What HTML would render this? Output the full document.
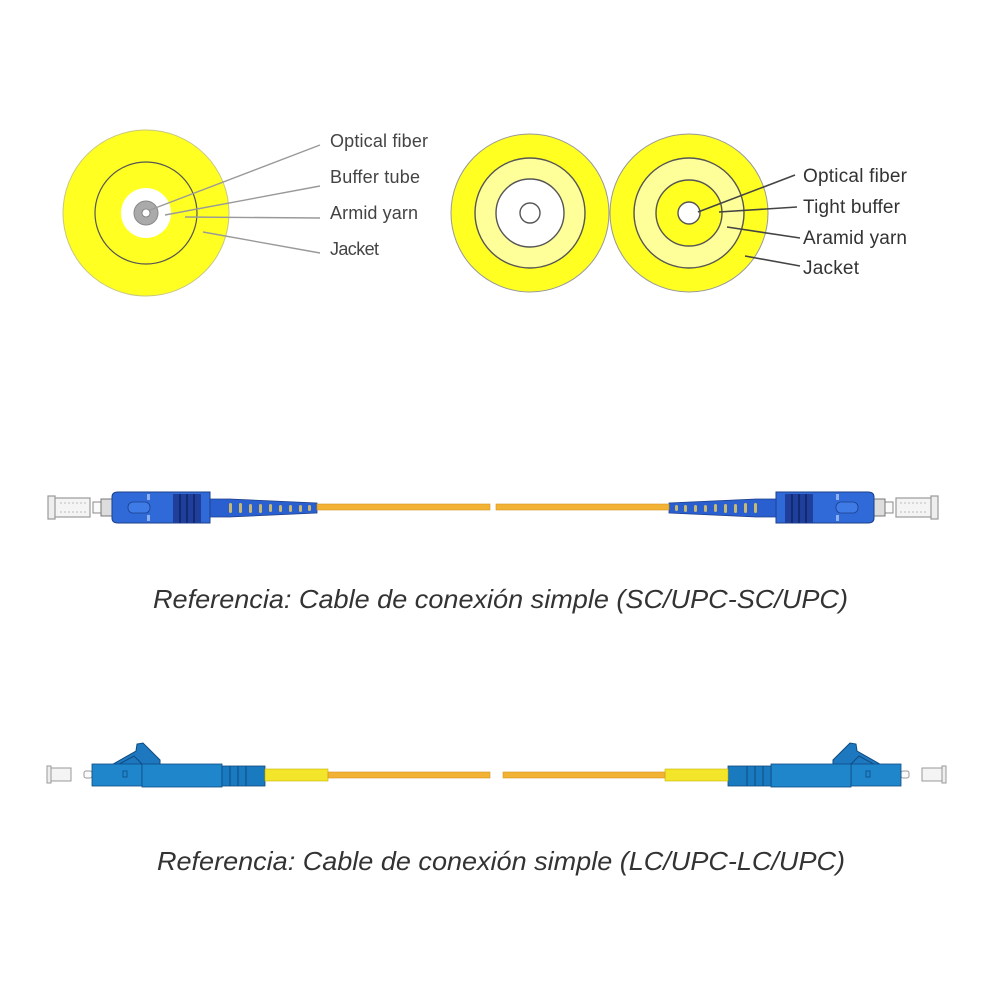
<!DOCTYPE html>
<html><head><meta charset="utf-8"><style>
html,body{margin:0;padding:0;background:#fff}
svg{display:block}
</style></head><body>
<svg width="1000" height="1000" viewBox="0 0 1000 1000" xmlns="http://www.w3.org/2000/svg">
<defs>
<g id="sc">
  <rect x="50" y="498" width="40" height="19" fill="#f4f4f4" stroke="#999" stroke-width="1.2"/>
  <rect x="48" y="496" width="7" height="23" fill="#eee" stroke="#999" stroke-width="1.2"/>
  <line x1="60" y1="503" x2="86" y2="503" stroke="#bbb" stroke-dasharray="2,2"/>
  <line x1="60" y1="512" x2="86" y2="512" stroke="#bbb" stroke-dasharray="2,2"/>
  <rect x="93" y="502" width="9" height="11" fill="#fafafa" stroke="#888"/>
  <rect x="101" y="499" width="11" height="17" fill="#ddd" stroke="#777"/>
  <path d="M112 497 Q112 492 118 492 L210 492 L210 523 L118 523 Q112 523 112 518 Z" fill="#2f6ad8" stroke="#1d3f8a" stroke-width="1"/>
  <rect x="128" y="502" width="22" height="11" rx="5" fill="#3f7be6" stroke="#1d3f8a" stroke-width="0.8"/>
  <rect x="147" y="494" width="3" height="6" fill="#8fb0ee"/>
  <rect x="147" y="515" width="3" height="6" fill="#8fb0ee"/>
  <rect x="173" y="494" width="28" height="29" fill="#1f3f9a"/>
  <line x1="180" y1="494" x2="180" y2="523" stroke="#0f2266" stroke-width="1.5"/>
  <line x1="187" y1="494" x2="187" y2="523" stroke="#0f2266" stroke-width="1.5"/>
  <line x1="194" y1="494" x2="194" y2="523" stroke="#0f2266" stroke-width="1.5"/>
  <path d="M210 499 L230 499 L317 503 L317 513 L230 517 L210 517 Z" fill="#2a5fd0" stroke="#1d3f8a" stroke-width="0.8"/>
  <g fill="#c9b870">
    <rect x="229" y="503" width="3" height="10" rx="1.5"/>
    <rect x="239" y="503" width="3" height="10" rx="1.5"/>
    <rect x="249" y="504" width="3" height="9" rx="1.5"/>
    <rect x="259" y="504" width="3" height="9" rx="1.5"/>
    <rect x="269" y="504" width="3" height="8" rx="1.5"/>
    <rect x="279" y="505" width="3" height="7" rx="1.5"/>
    <rect x="289" y="505" width="3" height="7" rx="1.5"/>
    <rect x="299" y="505" width="3" height="7" rx="1.5"/>
    <rect x="308" y="505" width="3" height="6" rx="1.5"/>
  </g>
  <rect x="317" y="504" width="173" height="6" fill="#f2b233" stroke="#d69520" stroke-width="0.6"/>
</g>
<g id="lc">
  <rect x="49" y="768" width="22" height="13" fill="#f4f4f4" stroke="#999"/>
  <rect x="47" y="766" width="4" height="17" fill="#eee" stroke="#999"/>
  <rect x="84" y="771" width="8" height="7" rx="2" fill="#fafafa" stroke="#999"/>
  <path d="M108 767 L136 751 L137 744 L143 743 L160 760 L160 767 Z" fill="#1e78c0" stroke="#0e4a80" stroke-width="1"/>
  <path d="M114 767 L134 756 L144 766" fill="none" stroke="#0e4a80" stroke-width="1"/>
  <rect x="92" y="764" width="50" height="22" fill="#1f86cc" stroke="#0e4a80" stroke-width="0.8"/>
  <rect x="142" y="764" width="80" height="23" fill="#1f86cc" stroke="#0e4a80" stroke-width="0.8"/>
  <rect x="123" y="771" width="4" height="6" fill="none" stroke="#0e4a80" stroke-width="0.8"/>
  <rect x="222" y="766" width="43" height="20" fill="#1a7ac0" stroke="#0e4a80" stroke-width="0.8"/>
  <line x1="230" y1="766" x2="230" y2="786" stroke="#0e4a80"/>
  <line x1="238" y1="766" x2="238" y2="786" stroke="#0e4a80"/>
  <line x1="246" y1="766" x2="246" y2="786" stroke="#0e4a80"/>
  <rect x="265" y="769" width="63" height="12" fill="#f2e52a" stroke="#c9b300" stroke-width="0.6"/>
  <rect x="328" y="772" width="162" height="6" fill="#f2b233" stroke="#d69520" stroke-width="0.6"/>
</g>
</defs>

<circle cx="146" cy="213" r="83" fill="#ffff22" stroke="#c8c880" stroke-width="1"/>
<circle cx="146" cy="213" r="51" fill="none" stroke="#555" stroke-width="1.2"/>
<circle cx="146" cy="213" r="25" fill="#fff"/>
<circle cx="146" cy="213" r="12" fill="#aaa" stroke="#888"/>
<circle cx="146" cy="213" r="4" fill="#fff" stroke="#777" stroke-width="0.8"/>
<g stroke="#999" stroke-width="1.4">
  <line x1="320" y1="145" x2="150" y2="210"/>
  <line x1="320" y1="186" x2="165" y2="215"/>
  <line x1="320" y1="218" x2="185" y2="217"/>
  <line x1="320" y1="253" x2="203" y2="232"/>
</g>
<g font-family="Liberation Sans, sans-serif" font-size="18" fill="#444">
  <text x="330" y="147" textLength="98">Optical fiber</text>
  <text x="330" y="183" textLength="90">Buffer tube</text>
  <text x="330" y="219" textLength="88">Armid yarn</text>
  <text x="330" y="255" textLength="49">Jacket</text>
</g>

<circle cx="530" cy="213" r="79" fill="#ffff22" stroke="#999" stroke-width="1"/>
<circle cx="530" cy="213" r="55" fill="#ffff9a" stroke="#555" stroke-width="1.4"/>
<circle cx="530" cy="213" r="34" fill="#fff" stroke="#555" stroke-width="1.4"/>
<circle cx="530" cy="213" r="10" fill="#fff" stroke="#555" stroke-width="1.4"/>
<circle cx="689" cy="213" r="79" fill="#ffff22" stroke="#999" stroke-width="1"/>
<circle cx="689" cy="213" r="55" fill="#ffff9a" stroke="#555" stroke-width="1.4"/>
<circle cx="689" cy="213" r="33" fill="#ffff22" stroke="#555" stroke-width="1.4"/>
<circle cx="689" cy="213" r="11" fill="#fff" stroke="#555" stroke-width="1.4"/>
<g stroke="#444" stroke-width="1.6">
  <line x1="795" y1="175" x2="698" y2="212"/>
  <line x1="797" y1="207" x2="719" y2="212"/>
  <line x1="800" y1="238" x2="727" y2="227"/>
  <line x1="800" y1="266" x2="745" y2="256"/>
</g>
<g font-family="Liberation Sans, sans-serif" font-size="19" fill="#333">
  <text x="803" y="182" textLength="104">Optical fiber</text>
  <text x="803" y="213" textLength="97">Tight buffer</text>
  <text x="803" y="244" textLength="104">Aramid yarn</text>
  <text x="803" y="274" textLength="56">Jacket</text>
</g>

<use href="#sc"/>
<use href="#sc" transform="translate(986,0) scale(-1,1)"/>

<text x="153" y="608" textLength="695" lengthAdjust="spacingAndGlyphs" font-family="Liberation Sans, sans-serif" font-style="italic" font-size="26" fill="#333">Referencia: Cable de conexión simple (SC/UPC-SC/UPC)</text>

<use href="#lc"/>
<use href="#lc" transform="translate(993,0) scale(-1,1)"/>

<text x="157" y="870" textLength="688" lengthAdjust="spacingAndGlyphs" font-family="Liberation Sans, sans-serif" font-style="italic" font-size="26" fill="#333">Referencia: Cable de conexión simple (LC/UPC-LC/UPC)</text>
</svg>
</body></html>
